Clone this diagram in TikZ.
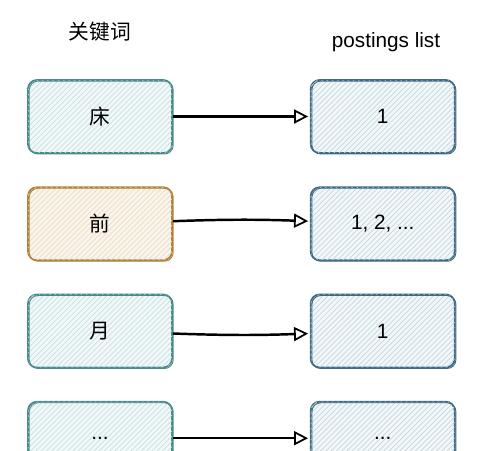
\documentclass[tikz,border=0pt]{standalone}
\usepackage{fontspec}
\setmainfont{Liberation Sans}
\newfontfamily\cjk{Noto Sans CJK SC}
\usetikzlibrary{positioning,patterns,arrows.meta}

\definecolor{keyline}{HTML}{4A8A8C}
\definecolor{postline}{HTML}{3E6A86}
\definecolor{hotline}{HTML}{B0823E}
\definecolor{keyfill}{HTML}{F1F8F9}
\definecolor{hotfill}{HTML}{FAF4EA}

\tikzset{
    sketchbox/.style={rectangle, rounded corners=5pt, minimum width=2.88cm, minimum height=1.46cm,
        draw=#1, line width=1pt, fill=keyfill,
        postaction={pattern=north east lines, pattern color=#1!28},
        postaction={draw=#1, line width=0.5pt, transform canvas={shift={(0.7pt,-0.6pt)}}},
        font=\fontsize{11.8}{14}\selectfont},
    hotbox/.style={sketchbox=hotline, fill=hotfill},
    link/.style={-{Triangle[open, length=8pt, width=8pt, line width=1pt]}, line width=1.4pt, shorten >=1pt}
}

\begin{document}
\begin{tikzpicture}[x=0.02cm, y=-0.02cm]
    \useasboundingbox (0,0) rectangle (477,450);

    % Column titles
    \node (keytitle) at (100,32) {\fontsize{11.8}{14}\selectfont\cjk 关键词};
    \node (posttitle) at (386,42) {\fontsize{11.8}{14}\selectfont postings list};

    % Keyword column
    \node[sketchbox=keyline] (key1) at (100,116.5) {\cjk 床};
    \node[hotbox, below=0.65cm of key1] (key2) {\cjk 前};
    \node[sketchbox=keyline, below=0.65cm of key2] (key3) {\cjk 月};
    \node[sketchbox=keyline, below=0.65cm of key3] (key4) {...};

    % Postings column
    \node[sketchbox=postline, right=2.74cm of key1] (post1) {1};
    \node[sketchbox=postline, right=2.74cm of key2] (post2) {1, 2, ...};
    \node[sketchbox=postline, right=2.74cm of key3] (post3) {1};
    \node[sketchbox=postline, right=2.74cm of key4] (post4) {...};

    % Links from keyword to postings list
    \draw[link] (key1) -- (post1);
    \draw[link] (key2) to[bend left=2] (post2);
    \draw[link] (key3) to[bend right=2] (post3);
    \draw[link] (key4) -- (post4);
\end{tikzpicture}
\end{document}
